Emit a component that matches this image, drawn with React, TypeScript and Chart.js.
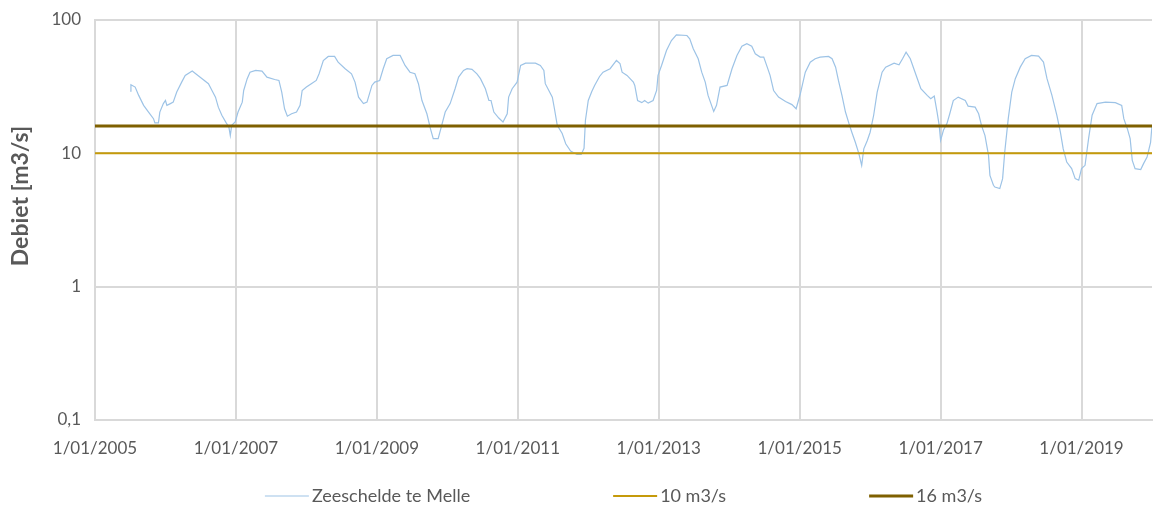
import React, { useEffect, useRef } from 'react';
import { Chart, registerables } from 'chart.js';

Chart.register(...registerables);

// ---- data (x in decimal years, y in m3/s) ----
const seriesLabel = 'Zeeschelde te Melle';
const lowLabel = '10 m3/s';
const highLabel = '16 m3/s';

const flowDates = [
  2005.50, 2005.51, 2005.57, 2005.62, 2005.69, 2005.76, 2005.83, 2005.85, 2005.90, 2005.92,
  2005.97, 2006.00, 2006.02, 2006.07, 2006.11, 2006.16, 2006.23, 2006.28, 2006.38, 2006.42,
  2006.52, 2006.61, 2006.66, 2006.71, 2006.75, 2006.80, 2006.86, 2006.90, 2006.92, 2006.94,
  2006.99, 2007.03, 2007.09, 2007.11, 2007.16, 2007.20, 2007.28, 2007.37, 2007.44, 2007.55,
  2007.61, 2007.65, 2007.69, 2007.73, 2007.79, 2007.86, 2007.91, 2007.94, 2008.00, 2008.07,
  2008.14, 2008.18, 2008.24, 2008.31, 2008.40, 2008.45, 2008.55, 2008.64, 2008.69, 2008.74,
  2008.81, 2008.86, 2008.93, 2008.97, 2009.04, 2009.09, 2009.14, 2009.23, 2009.33, 2009.40,
  2009.47, 2009.54, 2009.59, 2009.64, 2009.71, 2009.76, 2009.80, 2009.87, 2009.92, 2009.97,
  2010.04, 2010.11, 2010.16, 2010.23, 2010.28, 2010.35, 2010.42, 2010.47, 2010.54, 2010.59,
  2010.62, 2010.66, 2010.73, 2010.79, 2010.85, 2010.87, 2010.92, 2010.99, 2011.04, 2011.11,
  2011.25, 2011.32, 2011.37, 2011.39, 2011.49, 2011.52, 2011.56, 2011.63, 2011.68, 2011.75,
  2011.84, 2011.90, 2011.94, 2011.96, 2012.00, 2012.05, 2012.09, 2012.16, 2012.21, 2012.31,
  2012.40, 2012.45, 2012.48, 2012.55, 2012.64, 2012.66, 2012.70, 2012.76, 2012.80, 2012.85,
  2012.92, 2012.97, 2012.99, 2013.04, 2013.11, 2013.18, 2013.25, 2013.40, 2013.44, 2013.49,
  2013.56, 2013.61, 2013.66, 2013.70, 2013.78, 2013.82, 2013.87, 2013.97, 2014.04, 2014.11,
  2014.18, 2014.25, 2014.32, 2014.37, 2014.44, 2014.49, 2014.54, 2014.58, 2014.63, 2014.70,
  2014.80, 2014.89, 2014.95, 2015.01, 2015.08, 2015.15, 2015.22, 2015.29, 2015.41, 2015.46,
  2015.51, 2015.55, 2015.60, 2015.65, 2015.70, 2015.74, 2015.79, 2015.84, 2015.88, 2015.91,
  2015.96, 2016.00, 2016.05, 2016.10, 2016.17, 2016.22, 2016.34, 2016.41, 2016.46, 2016.51,
  2016.57, 2016.62, 2016.67, 2016.72, 2016.81, 2016.86, 2016.91, 2016.95, 2016.98, 2017.00,
  2017.04, 2017.09, 2017.13, 2017.18, 2017.25, 2017.35, 2017.39, 2017.49, 2017.54, 2017.58,
  2017.63, 2017.68, 2017.70, 2017.75, 2017.77, 2017.84, 2017.88, 2017.91, 2017.96, 2018.01,
  2018.06, 2018.13, 2018.20, 2018.29, 2018.39, 2018.46, 2018.51, 2018.58, 2018.65, 2018.70,
  2018.74, 2018.79, 2018.86, 2018.91, 2018.96, 2019.00, 2019.05, 2019.10, 2019.15, 2019.22,
  2019.34, 2019.48, 2019.57, 2019.60, 2019.65, 2019.69, 2019.72, 2019.76, 2019.84, 2019.88,
  2019.93, 2019.98, 2020.00,
];

const flowValues = [
  29.3, 32.7, 31.4, 27.2, 22.9, 20.4, 18.2, 16.9, 16.9, 20.4,
  23.6, 24.9, 22.9, 23.6, 24.2, 28.8, 34.2, 38.4, 41.4, 39.9,
  36.3, 33.3, 29.6, 26.4, 22.2, 19.3, 17.0, 15.7, 13.6, 16.2,
  17.2, 20.4, 24.2, 29.6, 36.3, 40.6, 41.9, 41.4, 37.3, 35.8,
  35.2, 28.8, 21.6, 19.0, 19.8, 20.4, 22.9, 29.6, 31.4, 33.3,
  35.2, 39.5, 49.7, 53.3, 53.3, 48.3, 43.1, 39.5, 34.2, 26.4,
  23.6, 24.2, 32.3, 34.2, 35.2, 43.1, 51.2, 54.2, 54.2, 45.6,
  40.6, 39.5, 33.3, 24.9, 19.8, 15.3, 12.9, 12.9, 16.2, 20.4,
  23.6, 30.5, 37.3, 41.9, 43.1, 42.6, 39.5, 36.3, 30.5, 24.9,
  24.9, 20.4, 18.4, 17.2, 19.8, 26.4, 30.5, 34.2, 45.6, 47.5,
  47.5, 45.6, 41.9, 33.3, 26.4, 21.6, 16.2, 14.1, 11.8, 10.4,
  9.8, 9.8, 10.9, 17.7, 24.9, 29.1, 32.3, 37.7, 40.6, 43.1,
  49.7, 47.2, 40.6, 38.4, 34.2, 32.3, 24.9, 24.0, 24.9, 23.8,
  24.9, 29.6, 38.4, 45.6, 59.1, 70.2, 77.4, 76.5, 72.3, 60.8,
  51.2, 40.6, 34.2, 27.2, 20.6, 22.9, 31.4, 32.3, 43.1, 54.2,
  63.6, 66.4, 63.6, 55.8, 52.7, 52.7, 44.3, 38.4, 29.6, 26.4,
  24.5, 23.2, 21.6, 28.0, 40.6, 48.3, 51.2, 52.7, 53.3, 51.2,
  44.3, 35.2, 27.2, 20.4, 16.7, 14.4, 12.1, 9.95, 8.13, 10.8,
  12.5, 14.4, 19.3, 28.8, 40.6, 44.3, 47.5, 46.2, 51.2, 57.4,
  51.2, 43.1, 36.3, 30.5, 27.2, 25.7, 26.9, 20.4, 16.2, 12.5,
  14.9, 16.7, 19.8, 24.9, 26.4, 24.9, 22.6, 22.2, 19.8, 16.2,
  13.6, 9.66, 6.84, 5.76, 5.59, 5.44, 6.46, 10.2, 18.2, 28.8,
  36.3, 44.3, 51.2, 54.2, 53.6, 48.3, 36.3, 27.2, 19.3, 14.4,
  10.8, 8.61, 7.68, 6.46, 6.28, 7.68, 8.13, 12.9, 19.3, 23.6,
  24.2, 24.0, 22.9, 18.2, 15.3, 12.9, 8.86, 7.68, 7.55, 8.37,
  9.38, 12.1, 16.2,
];

const thresholdSpan = [2005, 2020];
const lowThreshold = 10;
const highThreshold = 16;

const xTickYears = [2005, 2007, 2009, 2011, 2013, 2015, 2017, 2019];
const yTickValues = [0.1, 1, 10, 100];
const yTickLabels = ['0,1', '1', '10', '100'];
const yTitle = 'Debiet [m3/s]';

const textColor = '#595959';
const gridColor = '#D9D9D9';

const overlayPlugin = {
  id: 'overlay',
  afterDraw(chart: any) {
    const { ctx, chartArea } = chart;
    // y axis title
    ctx.save();
    ctx.font = 'bold 23px Lato';
    ctx.fillStyle = textColor;
    ctx.textAlign = 'center';
    ctx.textBaseline = 'middle';
    ctx.translate(21, (chartArea.top + chartArea.bottom) / 2 - 24);
    ctx.rotate(-Math.PI / 2);
    ctx.fillText(yTitle, 0, 0);
    ctx.restore();

    // legend
    ctx.save();
    ctx.font = '18px Lato';
    const sample = 44;
    const gap = 3;
    const spacing = 143;
    const items = chart.data.datasets.map((ds: any) => ({
      label: ds.label,
      color: ds.borderColor,
      width: ds.borderWidth,
      tw: ctx.measureText(ds.label).width,
    }));
    const total =
      items.reduce((s: number, it: any) => s + sample + gap + it.tw, 0) + spacing * (items.length - 1);
    let x = (chartArea.left + chartArea.right) / 2 - total / 2;
    const y = chart.height - 9;
    ctx.textBaseline = 'middle';
    ctx.textAlign = 'left';
    for (const it of items) {
      ctx.beginPath();
      ctx.strokeStyle = it.color;
      ctx.lineWidth = it.width;
      ctx.moveTo(x, y);
      ctx.lineTo(x + sample, y);
      ctx.stroke();
      ctx.fillStyle = textColor;
      ctx.fillText(it.label, x + sample + gap, y);
      x += sample + gap + it.tw + spacing;
    }
    ctx.restore();
  },
};

export default function App() {
  const canvasRef = useRef<HTMLCanvasElement | null>(null);

  useEffect(() => {
    if (!canvasRef.current) return;
    const flowData = flowDates.map((d, i) => ({ x: d, y: flowValues[i] }));
    const lowData = thresholdSpan.map((d) => ({ x: d, y: lowThreshold }));
    const highData = thresholdSpan.map((d) => ({ x: d, y: highThreshold }));

    const chart = new Chart(canvasRef.current, {
      type: 'line',
      data: {
        datasets: [
          {
            label: seriesLabel,
            data: flowData,
            borderColor: '#9DC3E6',
            borderWidth: 1.2,
            pointRadius: 0,
            tension: 0,
            order: 3,
          },
          {
            label: lowLabel,
            data: lowData,
            borderColor: '#C59A0A',
            borderWidth: 2,
            pointRadius: 0,
            order: 2,
          },
          {
            label: highLabel,
            data: highData,
            borderColor: '#7F6000',
            borderWidth: 3,
            pointRadius: 0,
            order: 1,
          },
        ],
      },
      options: {
        animation: false,
        responsive: false,
        layout: { padding: { top: 20, right: 2, bottom: 0, left: 0 } },
        plugins: {
          legend: { display: false },
          tooltip: { enabled: false },
          title: { display: false },
        },
        scales: {
          x: {
            type: 'linear',
            min: 2005,
            max: 2020,
            afterBuildTicks: (scale: any) => {
              scale.ticks = xTickYears.map((v) => ({ value: v }));
            },
            afterFit: (scale: any) => {
              scale.height = 85;
            },
            ticks: {
              color: textColor,
              font: { family: 'Lato', size: 17 },
              padding: 18,
              maxRotation: 0,
              autoSkip: false,
              callback: (v: any) => '1/01/' + v,
            },
            grid: { color: gridColor, lineWidth: 2, drawTicks: false },
            border: { color: gridColor, width: 2 },
          },
          y: {
            type: 'logarithmic',
            min: 0.1,
            max: 100,
            afterBuildTicks: (scale: any) => {
              scale.ticks = yTickValues.map((v) => ({ value: v }));
            },
            afterFit: (scale: any) => {
              scale.width = 95;
              scale.paddingTop = 0;
              scale.paddingBottom = 0;
            },
            ticks: {
              color: textColor,
              font: { family: 'Lato', size: 17 },
              padding: 14,
              autoSkip: false,
              callback: (v: any) => {
                const i = yTickValues.indexOf(Number(v));
                return i >= 0 ? yTickLabels[i] : '';
              },
            },
            grid: { color: gridColor, lineWidth: 2, drawTicks: false },
            border: { color: gridColor, width: 2 },
          },
        },
      },
      plugins: [overlayPlugin],
    } as any);

    return () => chart.destroy();
  }, []);

  return (
    <div style={{ position: 'absolute', left: 0, top: 0, width: 1154, height: 505, background: '#fff' }}>
      <canvas ref={canvasRef} width={1154} height={505} />
    </div>
  );
}
